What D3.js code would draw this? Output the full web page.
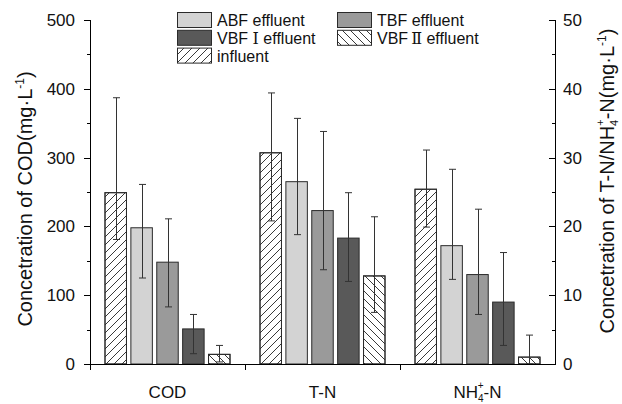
<!DOCTYPE html>
<html>
<head>
<meta charset="utf-8">
<script src="https://cdn.jsdelivr.net/npm/d3@7"></script>
<style>
  body { margin: 0; background: #fff; }
  svg { display: block; font-family: "Liberation Sans", Arial, sans-serif; }
  .axis path, .axis line { stroke: #000; stroke-width: 1; shape-rendering: crispEdges; }
  .axis text { font-size: 17px; fill: #111; }
</style>
</head>
<body>
<div id="chart"></div>
<script>
// categories and series
var categories = ['COD', 'T-N', 'NH4-N'];
var seriesNames = ['influent', 'ABF effluent', 'TBF effluent', 'VBF I effluent', 'VBF II effluent'];

// mean values per category (COD in mg/L on left axis, T-N and NH4-N on right axis)
var codValues = [249, 198, 148, 51, 14];
var codHigh   = [387, 261, 211, 72, 27];
var codLow    = [181, 125, 83, 15, 3];

var tnValues = [30.7, 26.5, 22.3, 18.3, 12.8];
var tnHigh   = [39.4, 35.7, 33.8, 24.9, 21.4];
var tnLow    = [20.8, 18.8, 13.7, 12.0, 7.5];

var nhValues = [25.4, 17.2, 13.0, 9.0, 1.0];
var nhHigh   = [31.1, 28.3, 22.5, 16.2, 4.2];
var nhLow    = [19.9, 12.3, 7.2, 2.7, 0.0];

var leftTicks = [0, 100, 200, 300, 400, 500];
var rightTicks = [0, 10, 20, 30, 40, 50];

var width = 622, height = 404;
var margin = { top: 20, right: 67, bottom: 40, left: 90 };
var innerW = width - margin.left - margin.right;
var innerH = height - margin.top - margin.bottom;

var svg = d3.select('#chart').append('svg')
    .attr('width', width)
    .attr('height', height);

// hatch patterns
var defs = svg.append('defs');
function hatch(id, d, size) {
    defs.append('pattern')
        .attr('id', id)
        .attr('patternUnits', 'userSpaceOnUse')
        .attr('width', size).attr('height', size)
        .append('path')
        .attr('d', d)
        .attr('stroke', '#222')
        .attr('stroke-width', 0.9)
        .attr('fill', 'none');
}
hatch('hatchF', 'M-2,2 l4,-4 M0,8 l8,-8 M6,10 l4,-4', 8);
hatch('hatchB', 'M-2,6 l4,4 M0,0 l8,8 M6,-2 l4,4', 8);

var fills = ['url(#hatchF)', '#d3d3d3', '#9a9a9a', '#595959', 'url(#hatchB)'];

var g = svg.append('g').attr('transform', 'translate(' + margin.left + ',' + margin.top + ')');

var x0 = d3.scaleBand().domain(categories).range([0, innerW]);
var x1 = d3.scaleBand().domain(seriesNames)
    .range([15, x0.bandwidth() - 15])
    .paddingInner(0.17);
var yL = d3.scaleLinear().domain([0, 500]).range([innerH, 0]);
var yR = d3.scaleLinear().domain([0, 50]).range([innerH, 0]);

var groups = [
    { cat: 'COD', scale: yL, values: codValues, high: codHigh, low: codLow },
    { cat: 'T-N', scale: yR, values: tnValues, high: tnHigh, low: tnLow },
    { cat: 'NH4-N', scale: yR, values: nhValues, high: nhHigh, low: nhLow }
];

// bars
groups.forEach(function (grp) {
    var gg = g.append('g').attr('transform', 'translate(' + x0(grp.cat) + ',0)');
    var rows = seriesNames.map(function (s, i) {
        return { name: s, i: i, v: grp.values[i], hi: grp.high[i], lo: grp.low[i] };
    });
    gg.selectAll('rect.bar').data(rows).enter().append('rect')
        .attr('class', 'bar')
        .attr('x', function (d) { return x1(d.name); })
        .attr('y', function (d) { return grp.scale(d.v); })
        .attr('width', x1.bandwidth())
        .attr('height', function (d) { return innerH - grp.scale(d.v); })
        .attr('fill', function (d) { return d.i === 0 || d.i === 4 ? '#fff' : fills[d.i]; })
        .attr('stroke', '#2a2a2a')
        .attr('stroke-width', 1);
    // hatch overlay
    gg.selectAll('rect.hatch').data(rows.filter(function (d) { return d.i === 0 || d.i === 4; }))
        .enter().append('rect')
        .attr('x', function (d) { return x1(d.name); })
        .attr('y', function (d) { return grp.scale(d.v); })
        .attr('width', x1.bandwidth())
        .attr('height', function (d) { return innerH - grp.scale(d.v); })
        .attr('fill', function (d) { return fills[d.i]; })
        .attr('stroke', '#2a2a2a')
        .attr('stroke-width', 1);

    // error bars
    var eb = gg.selectAll('g.err').data(rows).enter().append('g')
        .attr('stroke', '#333').attr('stroke-width', 1);
    var cx = function (d) { return Math.round(x1(d.name) + x1.bandwidth() / 2) + 0.5; };
    eb.append('line')
        .attr('x1', cx).attr('x2', cx)
        .attr('y1', function (d) { return grp.scale(d.hi); })
        .attr('y2', function (d) { return grp.scale(d.lo); });
    eb.append('line')
        .attr('x1', function (d) { return cx(d) - 3.5; }).attr('x2', function (d) { return cx(d) + 3.5; })
        .attr('y1', function (d) { return grp.scale(d.hi); })
        .attr('y2', function (d) { return grp.scale(d.hi); });
    eb.append('line')
        .attr('x1', function (d) { return cx(d) - 3.5; }).attr('x2', function (d) { return cx(d) + 3.5; })
        .attr('y1', function (d) { return grp.scale(d.lo); })
        .attr('y2', function (d) { return grp.scale(d.lo); });
});

// left axis
g.append('g').attr('class', 'axis')
    .call(d3.axisLeft(yL).tickValues(d3.range(50, 500, 100)).tickSize(3).tickFormat(''));
g.append('g').attr('class', 'axis')
    .call(d3.axisLeft(yL).tickValues(leftTicks).tickSize(6).tickPadding(9).tickSizeOuter(0));

// right axis, ticks pointing inward
var rAxis = g.append('g').attr('class', 'axis').attr('transform', 'translate(' + innerW + ',0)');
rAxis.append('g')
    .call(d3.axisRight(yR).tickValues(d3.range(5, 50, 10)).tickSize(-3).tickFormat(''));
rAxis.append('g')
    .call(d3.axisRight(yR).tickValues(rightTicks).tickSize(-6).tickPadding(8).tickSizeOuter(0));

// bottom axis with group separators
var xAxis = g.append('g').attr('class', 'axis').attr('transform', 'translate(0,' + innerH + ')');
xAxis.append('line').attr('x1', 0).attr('x2', innerW).attr('y1', 0.5).attr('y2', 0.5);
xAxis.selectAll('line.sep').data(categories).enter().append('line')
    .attr('x1', function (d) { return Math.round(x0(d)) + 0.5; })
    .attr('x2', function (d) { return Math.round(x0(d)) + 0.5; })
    .attr('y1', 0).attr('y2', 6);

var catLabels = xAxis.selectAll('text.cat').data(categories).enter().append('text')
    .attr('x', function (d) { return x0(d) + x0.bandwidth() / 2; })
    .attr('y', 34)
    .attr('text-anchor', 'middle')
    .style('font-size', '17px')
    .attr('fill', '#111');
catLabels.each(function (d) {
    var t = d3.select(this);
    if (d === 'NH4-N') {
        t.append('tspan').text('NH');
        t.append('tspan').attr('dy', 4).style('font-size', '10px').text('4');
        t.append('tspan').attr('dx', -6).attr('dy', -13).style('font-size', '10px').text('+');
        t.append('tspan').attr('dy', 9).text('-N');
    } else {
        t.text(d);
    }
});

// axis titles
var tl = svg.append('text')
    .attr('transform', 'translate(32,199) rotate(-90)')
    .attr('text-anchor', 'middle')
    .style('font-size', '20px')
    .attr('fill', '#111');
tl.append('tspan').text('Concetration of COD(mg\u00b7L');
tl.append('tspan').attr('dy', -8).style('font-size', '12px').text('-1');
tl.append('tspan').attr('dy', 8).text(')');

var tr = svg.append('text')
    .attr('transform', 'translate(614,181) rotate(-90)')
    .attr('text-anchor', 'middle')
    .style('font-size', '20px')
    .attr('fill', '#111');
tr.append('tspan').text('Concetration of T-N/NH');
tr.append('tspan').attr('dy', 4).style('font-size', '11px').text('4');
tr.append('tspan').attr('dx', -6).attr('dy', -14).style('font-size', '11px').text('+');
tr.append('tspan').attr('dy', 10).text('-N(mg\u00b7L');
tr.append('tspan').attr('dy', -8).style('font-size', '12px').text('-1');
tr.append('tspan').attr('dy', 8).text(')');

// legend
var legendItems = [
    { i: 1, col: 0, row: 0 }, { i: 2, col: 1, row: 0 },
    { i: 3, col: 0, row: 1 }, { i: 4, col: 1, row: 1 },
    { i: 0, col: 0, row: 2 }
];
var legendX = [177, 337], legendY = 12, rowH = 17.8;
var lg = svg.append('g');
legendItems.forEach(function (it) {
    var lx = legendX[it.col], ly = legendY + it.row * rowH;
    if (it.i === 0 || it.i === 4) {
        lg.append('rect').attr('x', lx + 0.5).attr('y', ly + 0.5).attr('width', 34).attr('height', 15)
            .attr('fill', '#fff');
    }
    lg.append('rect').attr('x', lx + 0.5).attr('y', ly + 0.5).attr('width', 34).attr('height', 15)
        .attr('fill', fills[it.i]).attr('stroke', '#2a2a2a').attr('stroke-width', 1);
    var t = lg.append('text').attr('x', lx + 40).attr('y', ly + 14)
        .style('font-size', '16px').attr('fill', '#111');
    var name = seriesNames[it.i];
    if (it.i === 3) {
        t.append('tspan').text('VBF ');
        t.append('tspan').style('font-family', '"Liberation Serif", "DejaVu Serif", serif').text('\u2160');
        t.append('tspan').text(' effluent');
    } else if (it.i === 4) {
        t.append('tspan').text('VBF');
        t.append('tspan').attr('dx', 3).style('font-family', '"Liberation Serif", "DejaVu Serif", serif').text('\u2161');
        t.append('tspan').text(' effluent');
    } else {
        t.text(name);
    }
});
</script>
</body>
</html>
